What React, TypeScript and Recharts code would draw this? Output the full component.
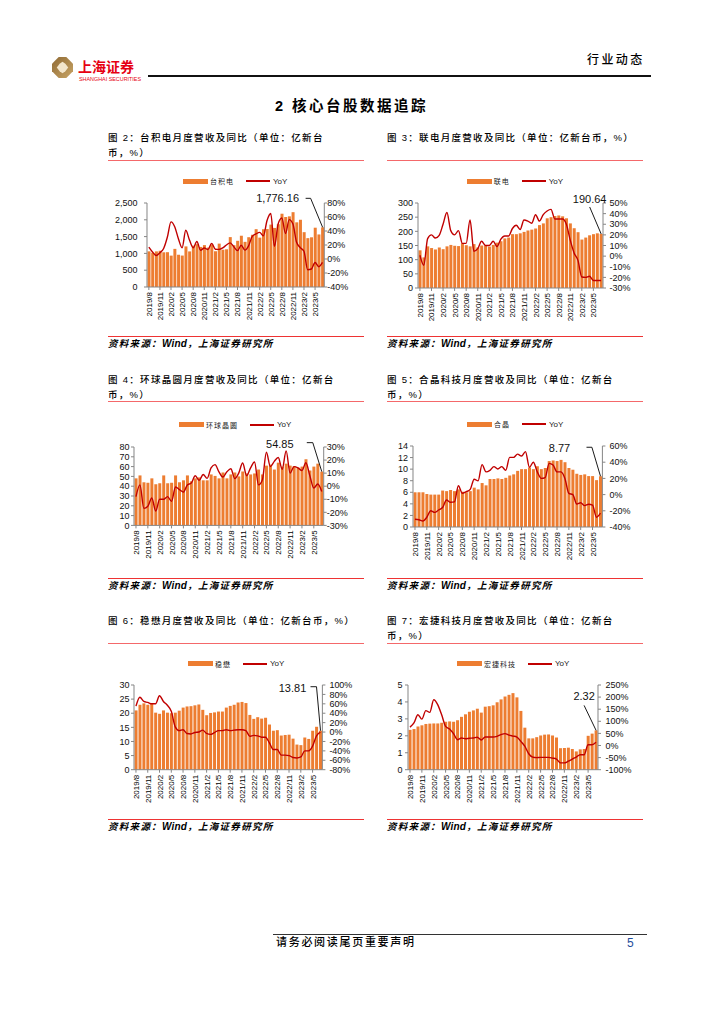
import React from "react";
import { ComposedChart, Bar, Line, XAxis, YAxis, Legend, LabelList } from "recharts";

const months = ["2019/8","2019/9","2019/10","2019/11","2019/12","2020/1","2020/2","2020/3","2020/4","2020/5","2020/6","2020/7","2020/8","2020/9","2020/10","2020/11","2020/12","2021/1","2021/2","2021/3","2021/4","2021/5","2021/6","2021/7","2021/8","2021/9","2021/10","2021/11","2021/12","2022/1","2022/2","2022/3","2022/4","2022/5","2022/6","2022/7","2022/8","2022/9","2022/10","2022/11","2022/12","2023/1","2023/2","2023/3","2023/4","2023/5","2023/6","2023/7"];

const tsmcRev = [1061,1020,1060,1078,1033,1036,934,1135,960,936,1208,1059,1229,1275,1193,1247,1173,1267,1064,1291,1111,1123,1485,1245,1375,1526,1344,1482,1554,1721,1469,1719,1725,1857,1758,1868,2181,2083,2103,2227,1925,2001,1632,1454,1479,1765,1564,1776.16];
const tsmcYoy = [17,10,5,9,15,31,53,46,29,16,41,27,16,25,12.5,15.7,13.6,22.3,14,13.7,15.8,20,23,17.6,11.9,19.7,12.7,18.8,32.4,35.8,38,33,55,65,18,50,58.6,36.4,56.3,50.2,23.9,16.2,11,-15.4,-14.3,-4.9,-11,-4.9];
const umcRev = [133,108,147,141,136,143,137,147,152,149,148,158,151,147,155,143,150,150,146,152,160,165,175,178,190,190,193,198,203,206,210,222,228,246,250,254,256,253,246,228,211,197,171,178,186,190,193,190.64];
const umcYoy = [0.8,-8.6,16.5,20,17,19.6,30,41,24,20,24,12,12,34,4.5,7,14,10,10,14,9,16,19,19,26,29,25,34,33,31,39,33,39,42.5,44,35,35,35,30,15,3,-4,-19.6,-20,-19,-23,-23,-23];
const gwcRev = [48,51,44,43.5,48,42,43,51,43,43.5,51,44,46,51,45,48,49,46,46,52,50.5,48,54,48,52,54,50,55,53,52,53,57,52,61,62,57,64,60,63,61,60.5,59,60,67.5,56,60,63,54.85];
const gwcYoy = [-8,1,-17,-15.4,-9,-19,-10,-10,-8,-11.6,-0.6,-2.6,-4.5,1,2.4,8,4.5,9,6,14,16.5,11,7,11,13.4,5.8,10,17.7,8,14,18.5,1,5,26,15,19,22,13,27,10,15,14,12,18,8,-1.4,1.7,-4];
const hejingRev = [6,6,6,5.7,5.6,5.6,5.6,6.3,6.2,6.4,6.2,6.5,6.1,6,6.2,6.8,6.5,7.6,7.2,8.3,8.3,8.4,8.3,8.5,8.9,9.1,9.7,10,10,10.3,10,10.5,10,10.2,11.4,11.5,11.4,11.6,11.2,10.2,9.9,9.2,9,9.1,8.8,8.8,8.1,8.77];
const hejingYoy = [-30.5,-31,-32.6,-28,-20,-22,-19,-16,-6.7,-9.5,-9,11,1.6,3.6,6.5,19,17,37,28,30,34.5,31.6,34.5,30,46,46,50,47.6,53,33.7,40,28,20,21,38.6,36.5,28,28,20,1.6,0,-11.6,-10,-13.6,-12,-13,-28,-23];
const winRev = [21,23,23.5,23,23.3,20.2,19.8,21,20.2,20,20.2,20.9,22,22.4,22.5,22.8,23.1,21.2,19.3,20.1,20.3,20.6,20.6,22,22.6,23,23.8,24,23.6,19.4,18,18.6,18.1,18.4,16,13.8,14,12.1,12.3,12.4,11,8.9,8.7,11.4,10.9,13.8,15.2,13.81];
const winYoy = [55,74,65,63,60,60,77,65,57,44,11,3,5,-3,-4,-1,0,4,-3,-5,-1,3,3,5,3,4,5,5,3,-9,-7,-8,-11,-11,-23,-37,-37,-49,-49,-50,-54,-55,-53,-40,-40,-30,-8,0];
const awscRev = [2.35,2.4,2.55,2.62,2.7,2.72,2.73,2.73,2.77,2.83,2.85,2.83,2.92,3.12,3.27,3.42,3.5,3.6,3.37,3.72,3.75,3.8,3.98,4.15,4.32,4.42,4.52,4.27,3.47,2.48,1.85,1.85,1.92,2.02,2.07,2.08,2.02,1.9,1.27,1.28,1.3,1.22,1.08,1.2,1.22,2,2.13,2.32];
const awscYoy = [76,93,127,109,144,137,189,169,127,79,68,49,24,31,28,30,31,34,23,35,35,35,38,45,49,43,39,35,17,-3,-34,-48,-50,-49,-49,-49,-52,-56,-72,-72,-65,-56,-48,-38,-38,3,3,13];

const latin = '"Liberation Sans", Arial, "Noto Sans CJK SC", sans-serif';
const BAR = "#ED7D31";
const LINE = "#C00000";
const AXIS = "#868686";
const RULE = "#F4686A";
const RULE_SRC = "#EE3333";

const T = ({ x, y, size = 9.5, weight = 400, italic = false, color = "#000", spacing = 0, children, font = latin }: any) => (
  <div style={{ position: "absolute", left: x, top: y, fontSize: size, fontWeight: weight, fontStyle: italic ? "italic" : "normal", color, letterSpacing: spacing, whiteSpace: "pre", lineHeight: 1, fontFamily: font }}>{children}</div>
);

const MonthTick = ({ x, y, payload }: any) => (
  <text transform={`translate(${x + 3},${y}) rotate(-90)`} textAnchor="end" fontSize={8} fontFamily={latin} fill="#000">{payload.value}</text>
);

const LegendBox = ({ payload, textWidth }: any) => {
  const items = payload || [];
  return (
    <div style={{ display: "flex", alignItems: "center", height: 10, fontFamily: latin, fontSize: 8, whiteSpace: "pre" }}>
      {items.map((it: any) => it.value === "YoY" ? (
        <div key={it.value} style={{ display: "flex", alignItems: "center" }}>
          <div style={{ width: 24, height: 1.5, background: LINE, marginLeft: 10 }} />
          <span style={{ marginLeft: 3, color: "#222" }}>{it.value}</span>
        </div>
      ) : (
        <div key={it.value} style={{ display: "flex", alignItems: "center" }}>
          <div style={{ width: 25, height: 5, background: BAR }} />
          <span style={{ marginLeft: 2, width: textWidth, color: "#222", letterSpacing: 1, fontSize: 7 }}>{it.value}</span>
        </div>
      ))}
    </div>
  );
};

const RevenueChart = ({ name, rev, yoy, plot, left, right, legend, call, lm, rm }: any) => {
  const pad = 44, topPad = 30, botPad = 42;
  const w = plot.r - plot.l + pad * 2;
  const h = plot.b - plot.t + topPad + botPad;
  const data = months.map((m, i) => ({ month: m, rev: rev[i], yoy: yoy[i] }));
  const callout = (p: any) => {
    if (p.index !== months.length - 1) return null;
    const px = p.x + p.width / 2, py = p.y;
    const pts = call.elbow
      ? `${px + call.sx},${py + call.sy} ${px + call.ex},${py + call.sy} ${px},${py}`
      : `${px + call.sx},${py + call.sy} ${px},${py}`;
    return (
      <g>
        <polyline points={pts} fill="none" stroke="#000" strokeWidth={0.9} />
        <text x={px + call.tx} y={py + call.ty} textAnchor="middle" dominantBaseline="central" fontSize={11} fontFamily={latin} fill="#111">{call.text}</text>
      </g>
    );
  };
  return (
    <div style={{ position: "absolute", left: plot.l - pad, top: plot.t - topPad }}>
      <ComposedChart width={w} height={h} data={data} margin={{ top: topPad, left: 4, right: 4, bottom: 2 }} barCategoryGap="14%">
        <XAxis dataKey="month" interval={2} tick={<MonthTick />} tickSize={3} axisLine={{ stroke: AXIS }} tickLine={{ stroke: AXIS }} height={40} />
        <YAxis yAxisId="l" width={40} domain={[left[0], left[left.length - 1]]} ticks={left} tickFormatter={(v: number) => v.toLocaleString("en-US")} tick={{ fontSize: 9, fontFamily: latin, fill: "#111" }} tickSize={3} tickMargin={lm} axisLine={{ stroke: AXIS }} tickLine={{ stroke: AXIS }} interval={0} />
        <YAxis yAxisId="r" orientation="right" width={40} domain={[right[0], right[right.length - 1]]} ticks={right} tickFormatter={(v: number) => `${v}%`} tick={{ fontSize: 9, fontFamily: latin, fill: "#111" }} tickSize={3} tickMargin={rm} axisLine={{ stroke: AXIS }} tickLine={{ stroke: AXIS }} interval={0} />
        <Legend layout="horizontal" verticalAlign="middle" align="center" itemSorter={null} wrapperStyle={{ left: legend.x - (plot.l - pad), top: legend.y - (plot.t - topPad) - 5, width: "auto", height: 10 }} content={(props: any) => <LegendBox {...props} textWidth={legend.tw} />} />
        <Bar yAxisId="l" dataKey="rev" name={name} fill={BAR} isAnimationActive={false}>
          <LabelList dataKey="rev" content={callout} />
        </Bar>
        <Line yAxisId="r" dataKey="yoy" name="YoY" type="monotone" stroke={LINE} strokeWidth={1.4} dot={false} isAnimationActive={false} />
      </ComposedChart>
    </div>
  );
};

const Source = ({ x, y, ruleY }: any) => (
  <>
    <div style={{ position: "absolute", left: x, top: ruleY, width: 256, height: 1, background: RULE_SRC }} />
    <div style={{ position: "absolute", left: x, top: y, fontSize: 9.5, fontWeight: 700, fontStyle: "italic", lineHeight: 1, whiteSpace: "pre", letterSpacing: 1.3, fontFamily: latin }}>
      资料来源：<span style={{ letterSpacing: 0.2, fontSize: 10 }}>Wind</span>，上海证券研究所
    </div>
  </>
);

const Caption = ({ x, y, lines, ruleY }: any) => (
  <>
    {lines.map((l: string, i: number) => <T key={i} x={x} y={y + i * 15} size={9.5} weight={500} spacing={1.3}>{l}</T>)}
    <div style={{ position: "absolute", left: x, top: ruleY, width: 256, height: 1, background: RULE }} />
  </>
);

export default function App() {
  return (
    <div style={{ position: "absolute", left: 0, top: 0, width: 724, height: 1024, background: "#fff", overflow: "hidden" }}>
      <svg style={{ position: "absolute", left: 52, top: 57 }} width={21} height={21} viewBox="0 0 22 22">
        <defs>
          <linearGradient id="gold" x1="0" y1="0" x2="1" y2="1">
            <stop offset="0" stopColor="#8F6A34" />
            <stop offset="1" stopColor="#C9A566" />
          </linearGradient>
        </defs>
        <polygon points="7,0 15,0 22,7 22,15 15,22 7,22 0,15 0,7" fill="url(#gold)" />
        <polygon points="11,5 14,7 17,11 14,15 11,17 8,15 5,11 8,7" fill="#F3E6CC" />
      </svg>
      <T x={78} y={58.5} size={14} weight={700} color="#E60012" font='"Noto Sans CJK SC"'>上海证券</T>
      <T x={79} y={77} size={5.4} color="#E60012">SHANGHAI SECURITIES</T>
      <div style={{ position: "absolute", left: 148, top: 75, width: 503, height: 2, background: "#111" }} />
      <T x={587} y={54} size={12} weight={500} spacing={2.4}>行业动态</T>
      <T x={275} y={99} size={14.5} weight={700} spacing={2.5}>2 核心台股数据追踪</T>

      <Caption x={108} y={133} ruleY={160} lines={["图 2：台积电月度营收及同比（单位：亿新台", "币，%）"]} />
      <Caption x={387} y={133} ruleY={160} lines={["图 3：联电月度营收及同比（单位：亿新台币，%）"]} />
      <Caption x={108} y={375} ruleY={401} lines={["图 4：环球晶圆月度营收及同比（单位：亿新台", "币，%）"]} />
      <Caption x={387} y={375} ruleY={401} lines={["图 5：合晶科技月度营收及同比（单位：亿新台", "币，%）"]} />
      <Caption x={108} y={616} ruleY={643} lines={["图 6：稳懋月度营收及同比（单位：亿新台币，%）"]} />
      <Caption x={387} y={616} ruleY={643} lines={["图 7：宏捷科技月度营收及同比（单位：亿新台", "币，%）"]} />

      <RevenueChart name="台积电" rev={tsmcRev} yoy={tsmcYoy} plot={{ l: 146.7, r: 324, t: 203, b: 287 }} left={[0,500,1000,1500,2000,2500]} right={[-40,-20,0,20,40,60,80]} legend={{ x: 183, y: 181, tw: 26 }} lm={6.5} rm={0} call={{ text: "1,776.16", tx: -45, ty: -29, sx: -17, sy: -29, ex: -12, elbow: true }} />
      <RevenueChart name="联电" rev={umcRev} yoy={umcYoy} plot={{ l: 417.7, r: 602.7, t: 203, b: 288 }} left={[0,50,100,150,200,250,300]} right={[-30,-20,-10,0,10,20,30,40,50]} legend={{ x: 466.7, y: 181, tw: 18 }} lm={2} rm={3.5} call={{ text: "190.64", tx: -11.5, ty: -35, sx: -11.5, sy: -27, ex: 0, elbow: false }} />
      <RevenueChart name="环球晶圆" rev={gwcRev} yoy={gwcYoy} plot={{ l: 134.3, r: 324, t: 447.3, b: 525.7 }} left={[0,10,20,30,40,50,60,70,80]} right={[-30,-20,-10,0,10,20,30]} legend={{ x: 179, y: 425, tw: 34 }} lm={1.5} rm={0} call={{ text: "54.85", tx: -42, ty: -28, sx: -15, sy: -29, ex: -9, elbow: true }} />
      <RevenueChart name="合晶" rev={hejingRev} yoy={hejingYoy} plot={{ l: 413.3, r: 602.7, t: 446, b: 527 }} left={[0,2,4,6,8,10,12,14]} right={[-40,-20,0,20,40,60]} legend={{ x: 467, y: 424, tw: 18 }} lm={2} rm={4} call={{ text: "8.77", tx: -41, ty: -28, sx: -14, sy: -29, ex: -8.6, elbow: true }} />
      <RevenueChart name="稳懋" rev={winRev} yoy={winYoy} plot={{ l: 134.3, r: 322.7, t: 685.3, b: 770 }} left={[0,5,10,15,20,25,30]} right={[-80,-60,-40,-20,0,20,40,60,80,100]} legend={{ x: 188, y: 664, tw: 18 }} lm={1.5} rm={4} call={{ text: "13.81", tx: -28, ty: -43, sx: -10, sy: -44, ex: -4, elbow: true }} />
      <RevenueChart name="宏捷科技" rev={awscRev} yoy={awscYoy} plot={{ l: 408.3, r: 598.3, t: 685.3, b: 770 }} left={[0,1,2,3,4,5]} right={[-100,-50,0,50,100,150,200,250]} legend={{ x: 457, y: 664, tw: 34 }} lm={2.5} rm={4.5} call={{ text: "2.32", tx: -12, ty: -34, sx: -12, sy: -25, ex: 0, elbow: false }} />

      <Source x={108} y={339} ruleY={336} />
      <Source x={387} y={339} ruleY={336} />
      <Source x={108} y={581} ruleY={578} />
      <Source x={387} y={581} ruleY={578} />
      <Source x={108} y={822} ruleY={819} />
      <Source x={387} y={822} ruleY={819} />

      <div style={{ position: "absolute", left: 273, top: 934, width: 374, height: 1, background: "#333" }} />
      <T x={276} y={936.5} size={11} weight={500} spacing={1.7}>请务必阅读尾页重要声明</T>
      <T x={627} y={937} size={12} color="#1F4E9C">5</T>
    </div>
  );
}
